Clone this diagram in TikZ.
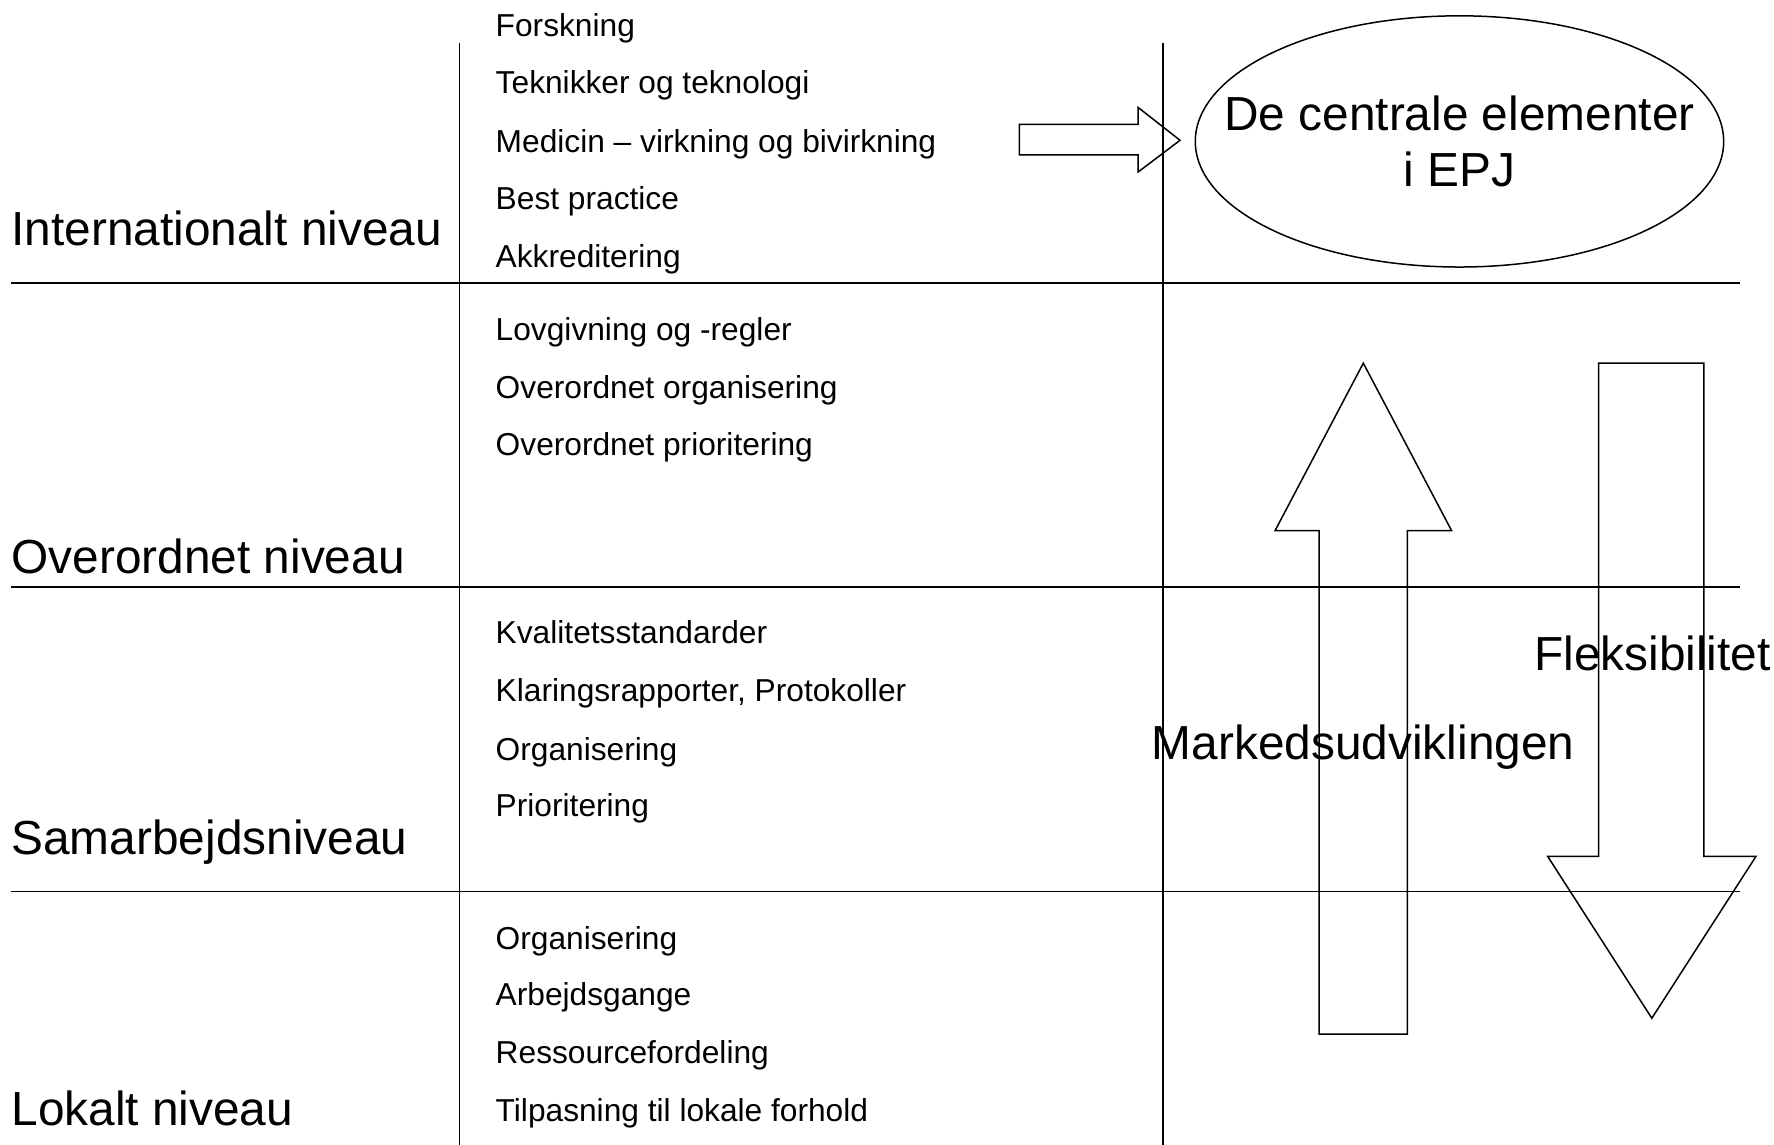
\documentclass[tikz,border=0pt]{standalone}
\usepackage{fontspec}
\setmainfont{Liberation Sans}
\usetikzlibrary{shapes.geometric}
\tikzset{
  rule/.style={line width=1.8pt},
  vrule/.style={line width=1.5pt},
  blockarrow/.style={line width=1.5pt, line join=miter},
  big/.style={inner sep=0pt, font=\fontsize{47.8}{56.6}\selectfont},
  item/.style={inner sep=0pt, anchor=base west, font=\fontsize{31.7}{38}\selectfont},
}
\begin{document}
\begin{tikzpicture}[x=1.1314pt,y=-1.1314pt]
\useasboundingbox (0,0) rectangle (1568,1012);
% grid
\coordinate (v1t) at (406,38); \coordinate (v1b) at (406,1012);
\coordinate (v2t) at (1028,38); \coordinate (v2b) at (1028,1012);
\coordinate (h1l) at (10,250); \coordinate (h1r) at (1538,250);
\coordinate (h2l) at (10,519); \coordinate (h2r) at (1538,519);
\coordinate (h3l) at (10,788); \coordinate (h3r) at (1538,788);
\draw[vrule] (v1t) -- (v1b);
\draw[vrule] (v2t) -- (v2b);
\draw[rule] (h1l) -- (h1r);
\draw[rule] (h2l) -- (h2r);
\draw[rule] (h3l) -- (h3r);
% level labels
\node[big, anchor=base west] (intl) at (10,217) {Internationalt niveau};
\node[big, anchor=base west] (over) at (10,507) {Overordnet niveau};
\node[big, anchor=base west] (samb) at (10,755) {Samarbejdsniveau};
\node[big, anchor=base west] (lok) at (10,995) {Lokalt niveau};
% items
\node[item] (i1) at (438,32) {Forskning};
\node[item] (i2) at (438,83) {Teknikker og teknologi};
\node[item] (i3) at (438,135) {Medicin – virkning og bivirkning};
\node[item] (i4) at (438,185) {Best practice};
\node[item] (i5) at (438,236) {Akkreditering};
\node[item] (o1) at (438,301) {Lovgivning og -regler};
\node[item] (o2) at (438,352) {Overordnet organisering};
\node[item] (o3) at (438,403) {Overordnet prioritering};
\node[item] (s1) at (438,569) {Kvalitetsstandarder};
\node[item] (s2) at (438,620) {Klaringsrapporter, Protokoller};
\node[item] (s3) at (438,672) {Organisering};
\node[item] (s4) at (438,722) {Prioritering};
\node[item] (l1) at (438,839) {Organisering};
\node[item] (l2) at (438,889) {Arbejdsgange};
\node[item] (l3) at (438,940) {Ressourcefordeling};
\node[item] (l4) at (438,991) {Tilpasning til lokale forhold};
% ellipse
\node[ellipse, draw, line width=1.5pt, inner sep=0pt,
      minimum width=528.4pt, minimum height=251.2pt] (epj) at (1290,125) {};
\node[big, align=center] (epjtext) at (epj.center) {De centrale elementer\\i EPJ};
% small block arrow towards ellipse
\draw[blockarrow] (901,110) -- (1006,110) -- (1006,95) -- (1043,124)
  -- (1006,152) -- (1006,137) -- (901,137) -- cycle;
% up arrow
\draw[blockarrow] (1205,321) -- (1283,469) -- (1244,469) -- (1244,914)
  -- (1166,914) -- (1166,469) -- (1127,469) -- cycle;
% down arrow
\draw[blockarrow] (1413,321) -- (1506,321) -- (1506,757) -- (1552,757)
  -- (1460,900) -- (1368,757) -- (1413,757) -- cycle;
% arrow labels
\node[big, anchor=base west] (mark) at (1018,671) {Markedsudviklingen};
\node[big, anchor=base west] (flex) at (1356,593) {Fleksibilitet};
\end{tikzpicture}
\end{document}
